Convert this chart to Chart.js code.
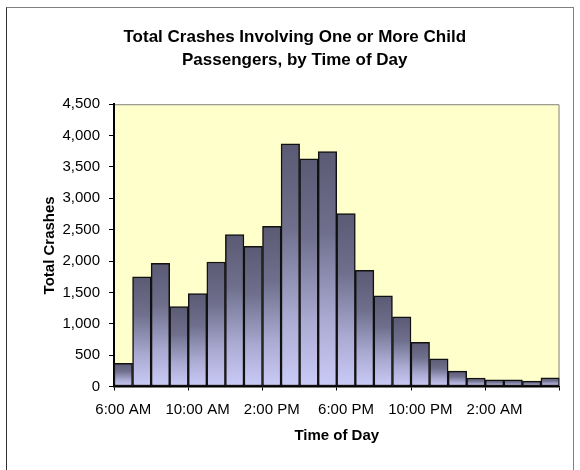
<!DOCTYPE html>
<html>
<head>
<meta charset="utf-8">
<script src="https://cdn.jsdelivr.net/npm/chart.js@4/dist/chart.umd.min.js"></script>
<style>
  html, body { margin: 0; padding: 0; background: #ffffff; }
  #wrap { position: relative; width: 580px; height: 470px; overflow: hidden; }
  #frame { position: absolute; left: 6px; top: 7px; width: 566px; height: 500px;
           border-top: 1.5px solid #808080; border-right: 1.5px solid #808080; border-left: 1.5px solid #303030; }
  canvas { position: absolute; left: 0; top: 0; }
</style>
</head>
<body>
<div id="wrap">
  <div id="frame"></div>
  <canvas id="c" width="580" height="470"></canvas>
</div>
<script>
const categories = ['6:00 AM','7:00 AM','8:00 AM','9:00 AM','10:00 AM','11:00 AM','12:00 PM','1:00 PM',
  '2:00 PM','3:00 PM','4:00 PM','5:00 PM','6:00 PM','7:00 PM','8:00 PM','9:00 PM',
  '10:00 PM','11:00 PM','12:00 AM','1:00 AM','2:00 AM','3:00 AM','4:00 AM','5:00 AM'];
const totalCrashes = [370, 1750, 1965, 1275, 1480, 1985, 2420, 2235, 2555, 3870, 3630, 3745,
  2755, 1850, 1445, 1110, 705, 440, 245, 135, 105, 105, 85, 140];
const titleLines = ['Total Crashes Involving One or More Child', 'Passengers, by Time of Day'];
const yAxisTitle = 'Total Crashes';
const xAxisTitle = 'Time of Day';
const labelEvery = 4;

const FONT = "'Liberation Sans', Arial, sans-serif";

const plotBg = {
  id: 'plotBg',
  beforeDraw(chart) {
    const {ctx, chartArea: a} = chart;
    ctx.save();
    ctx.fillStyle = '#FFFFCC';
    ctx.fillRect(a.left, a.top, a.right - a.left, a.bottom - a.top);
    ctx.strokeStyle = '#808080';
    ctx.lineWidth = 1;
    ctx.beginPath();
    ctx.moveTo(a.left, a.top + 0.5);
    ctx.lineTo(a.right - 0.5, a.top + 0.5);
    ctx.lineTo(a.right - 0.5, a.bottom);
    ctx.stroke();
    ctx.restore();
  }
};

new Chart(document.getElementById('c'), {
  type: 'bar',
  data: {
    labels: categories,
    datasets: [{
      data: totalCrashes,
      backgroundColor: (c) => {
        const chart = c.chart;
        if (!chart.chartArea || !chart.scales.y) return '#8a8ab0';
        const ys = chart.scales.y;
        const top = ys.getPixelForValue(c.raw);
        const bottom = ys.getPixelForValue(0);
        if (!isFinite(top) || !isFinite(bottom) || bottom - top < 1) return '#8a8ab0';
        const g = chart.ctx.createLinearGradient(0, top, 0, bottom);
        g.addColorStop(0, '#5a5a74');
        g.addColorStop(0.35, '#70708e');
        g.addColorStop(0.7, '#a8a8d0');
        g.addColorStop(1, '#cbcbf8');
        return g;
      },
      borderColor: '#111111',
      borderWidth: 1.5,
      borderSkipped: false,
      categoryPercentage: 1.0,
      barPercentage: 1.0
    }]
  },
  options: {
    responsive: false,
    animation: false,
    events: [],
    layout: { padding: { left: 30, right: 20.5, top: 0, bottom: 20 } },
    plugins: {
      legend: { display: false },
      tooltip: { enabled: false },
      title: {
        display: true,
        text: titleLines,
        color: '#000',
        font: { family: FONT, size: 17, weight: 'bold', lineHeight: 1.33 },
        padding: { top: 26, bottom: 33 }
      }
    },
    scales: {
      x: {
        offset: true,
        afterFit(s) { s.height = 63.5; },
        border: { display: true, color: '#000', width: 1.5 },
        grid: {
          offset: true,
          drawOnChartArea: false,
          drawTicks: true,
          tickLength: 4,
          lineWidth: 1,
          color: (c) => (c.index === undefined || c.index % labelEvery === 0) ? '#000' : 'rgba(0,0,0,0)'
        },
        ticks: {
          autoSkip: false,
          maxRotation: 0,
          minRotation: 0,
          padding: 10,
          color: '#000',
          font: { family: FONT, size: 15 },
          callback(value, index) { return index % labelEvery === 0 ? this.getLabelForValue(value) : ''; }
        },
        title: {
          display: true,
          text: xAxisTitle,
          color: '#000',
          font: { family: FONT, size: 15, weight: 'bold' },
          padding: { top: 0, bottom: 5 }
        }
      },
      y: {
        min: 0,
        max: 4500,
        afterFit(s) { s.width = 84; },
        border: { display: true, color: '#000', width: 2 },
        grid: {
          drawOnChartArea: false,
          drawTicks: true,
          tickLength: 5,
          color: '#000'
        },
        ticks: {
          stepSize: 500,
          padding: 9,
          color: '#000',
          font: { family: FONT, size: 15 },
          callback: (v) => v.toLocaleString('en-US')
        },
        title: {
          display: true,
          text: yAxisTitle,
          color: '#000',
          font: { family: FONT, size: 15, weight: 'bold' },
          padding: { top: 11, bottom: 0 }
        }
      }
    }
  },
  plugins: [plotBg]
});
</script>
</body>
</html>
